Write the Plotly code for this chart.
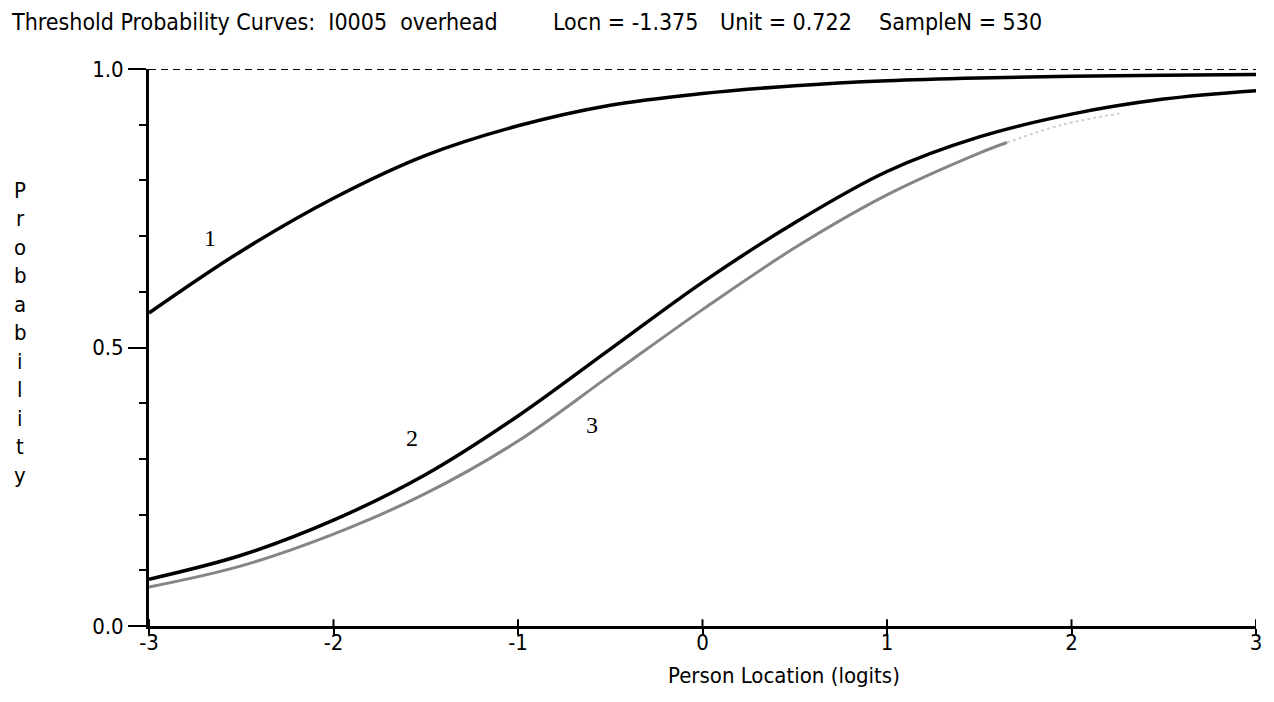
import plotly.graph_objects as go

# ---- data ----
curve1_x = [-3.0, -2.5, -2.0, -1.5, -1.0, -0.5, 0.0, 0.5, 1.0, 1.5, 2.0, 2.5, 3.0]
curve1_y = [0.562, 0.673, 0.768, 0.845, 0.898, 0.935, 0.956, 0.970, 0.979, 0.984, 0.987, 0.989, 0.990]

curve2_x = [-3.0, -2.5, -2.0, -1.5, -1.0, -0.5, 0.0, 0.5, 1.0, 1.5, 2.0, 2.5, 3.0]
curve2_y = [0.084, 0.127, 0.190, 0.272, 0.377, 0.497, 0.617, 0.724, 0.816, 0.878, 0.919, 0.946, 0.961]

curve3_x = [-3.0, -2.5, -2.0, -1.5, -1.0, -0.5, 0.0, 0.5, 1.0, 1.5, 1.65]
curve3_y = [0.070, 0.108, 0.165, 0.238, 0.332, 0.450, 0.568, 0.679, 0.774, 0.849, 0.868]
curve3_faint_x = [1.65, 1.95, 2.26]
curve3_faint_y = [0.868, 0.900, 0.920]

curve_labels = ["1", "2", "3"]
label_x = [-2.67, -1.575, -0.60]
label_y = [0.697, 0.338, 0.361]

x_ticks = [-3, -2, -1, 0, 1, 2, 3]
y_ticks = [0.0, 0.5, 1.0]
y_tick_text = ["0.0", "0.5", "1.0"]

title_parts = ["Threshold Probability Curves:\u00a0 I0005\u00a0 overhead",
               "Locn = -1.375", "Unit = 0.722", "SampleN = 530"]
title_px = [8, 552, 720, 880]
y_title = "Probability"
x_title = "Person Location (logits)"

# ---- layout geometry ----
W, H = 1274, 702
L, R, T, B = 149, 14, 69, 76
pw, ph = W - L - R, H - T - B

FONT = "Liberation Sans Narrow, Arial Narrow, DejaVu Sans Condensed, sans-serif"
SERIF = "Liberation Serif, Times New Roman, serif"

fig = go.Figure()
fig.add_trace(go.Scatter(x=curve1_x, y=curve1_y, mode="lines",
                         line=dict(color="black", width=3.5, shape="spline", smoothing=1),
                         hoverinfo="skip"))
fig.add_trace(go.Scatter(x=curve2_x, y=curve2_y, mode="lines",
                         line=dict(color="black", width=3.5, shape="spline", smoothing=1),
                         hoverinfo="skip"))
fig.add_trace(go.Scatter(x=curve3_x, y=curve3_y, mode="lines",
                         line=dict(color="#858585", width=3, shape="spline", smoothing=1),
                         hoverinfo="skip"))
fig.add_trace(go.Scatter(x=curve3_faint_x, y=curve3_faint_y, mode="lines",
                         line=dict(color="#d0d0d0", width=2, dash="dot", shape="spline"),
                         hoverinfo="skip"))

# dashed reference at probability 1
fig.add_shape(type="line", xref="x", yref="y", x0=x_ticks[0], x1=x_ticks[-1], y0=1, y1=1,
              line=dict(color="black", width=2, dash="7px,5px"))
# upper half of the x ticks (crossing the axis)
for t in x_ticks:
    fig.add_shape(type="line", xref="x", yref="y", x0=t, x1=t, y0=0, y1=0.012,
                  line=dict(color="black", width=2))

for txt, lx, ly in zip(curve_labels, label_x, label_y):
    fig.add_annotation(x=lx, y=ly, xref="x", yref="y", text=txt, showarrow=False,
                       font=dict(family=SERIF, size=24, color="black"))

for txt, px in zip(title_parts, title_px):
    fig.add_annotation(x=(px - L) / pw, y=(T + ph - 22) / ph, xref="paper", yref="paper",
                       text=txt, showarrow=False, xanchor="left", yanchor="middle",
                       font=dict(family=FONT, size=23, color="black"))

for i, ch in enumerate(y_title):
    py = 190 + 28.5 * i
    fig.add_annotation(x=(20 - L) / pw, y=(T + ph - py) / ph, xref="paper", yref="paper",
                       text=ch, showarrow=False, xanchor="center", yanchor="middle",
                       font=dict(family=FONT, size=22, color="black"))

fig.add_annotation(x=(786 - L) / pw, y=(T + ph - 675) / ph, xref="paper", yref="paper",
                   text=x_title, showarrow=False, xanchor="center", yanchor="middle",
                   font=dict(family=FONT, size=22, color="black"))

fig.update_layout(
    width=W, height=H, margin=dict(l=L, r=R, t=T, b=B),
    paper_bgcolor="white", plot_bgcolor="white", showlegend=False,
    xaxis=dict(range=[x_ticks[0], x_ticks[-1]], tickvals=x_ticks,
               ticktext=[str(v) for v in x_ticks], showgrid=False, zeroline=False,
               showline=True, linewidth=3, linecolor="black",
               ticks="outside", ticklen=6, tickwidth=2, tickcolor="black",
               ticklabelstandoff=-11,
               tickfont=dict(family=FONT, size=22, color="black")),
    yaxis=dict(range=[0, 1], tickvals=y_ticks, ticktext=y_tick_text,
               showgrid=False, zeroline=False,
               showline=True, linewidth=3, linecolor="black",
               ticks="outside", ticklen=18, tickwidth=1.5, tickcolor="black",
               tickfont=dict(family=FONT, size=22, color="black"),
               minor=dict(dtick=0.1, ticks="outside", ticklen=7, tickwidth=1.5,
                          tickcolor="black", showgrid=False)),
)

fig.write_html("out.html")
